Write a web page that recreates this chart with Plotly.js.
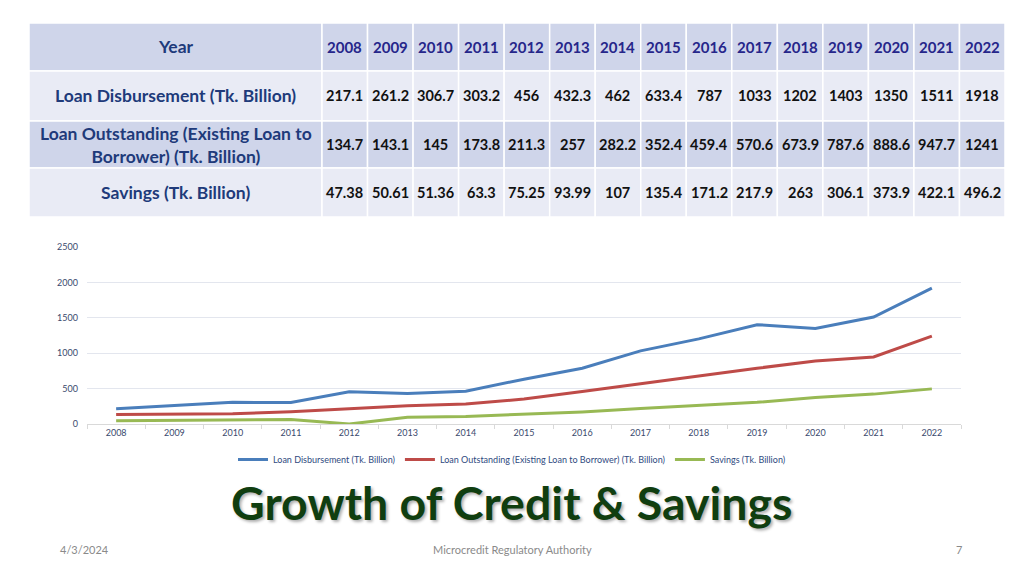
<!DOCTYPE html>
<html>
<head>
<meta charset="utf-8">
<script src="https://cdn.plot.ly/plotly-3.0.1.min.js"></script>
<style>html,body{margin:0;padding:0;background:#fff;}#chart{width:1024px;height:576px;}</style>
</head>
<body>
<div id="chart"></div>
<script>
const years = ["2008","2009","2010","2011","2012","2013","2014","2015","2016","2017","2018","2019","2020","2021","2022"];
const headerLabel = "Year";
const rowLabels = ["Loan Disbursement (Tk. Billion)", "Loan Outstanding (Existing Loan to<br>Borrower) (Tk. Billion)", "Savings (Tk. Billion)"];
const seriesNames = ["Loan Disbursement (Tk. Billion)", "Loan Outstanding (Existing Loan to Borrower) (Tk. Billion)", "Savings (Tk. Billion)"];
const disbursement = [217.1, 261.2, 306.7, 303.2, 456, 432.3, 462, 633.4, 787, 1033, 1202, 1403, 1350, 1511, 1918];
const outstanding = [134.7, 143.1, 145, 173.8, 211.3, 257, 282.2, 352.4, 459.4, 570.6, 673.9, 787.6, 888.6, 947.7, 1241];
const savings = ["47.38", "50.61", "51.36", "63.3", "75.25", "93.99", "107", "135.4", "171.2", "217.9", "263", "306.1", "373.9", "422.1", "496.2"];
// chart as drawn in the reference (2012 savings plotted at 0)
const savingsChart = [47.38, 50.61, 51.36, 63.3, 0, 93.99, 107, 135.4, 171.2, 217.9, 263, 306.1, 373.9, 422.1, 496.2];
const yTicks = [0, 500, 1000, 1500, 2000, 2500];

const W = 1024, H = 576;
const FONT = "Lato, 'Open Sans', sans-serif";
const light = "#e9ebf5", dark = "#cfd5ea";
const rowFills = [dark, light, dark, light];
const rowEdges = [23, 71, 121, 168, 217];
const colEdges = [29, 322];
for (let i = 1; i <= years.length; i++) colEdges.push(322 + i * (1005 - 322) / years.length);

const px = x => x / W, py = y => 1 - y / H;
const shapes = [];
const annotations = [];
const rowsText = [[headerLabel].concat(years)].concat(rowLabels.map((lab, r) =>
  [lab].concat(years.map((y, i) => r === 0 ? String(disbursement[i]) : r === 1 ? String(outstanding[i]) : savings[i]))));

for (let r = 0; r < rowsText.length; r++) {
  for (let c = 0; c < colEdges.length - 1; c++) {
    shapes.push({type: "rect", xref: "paper", yref: "paper",
      x0: px(colEdges[c]), x1: px(colEdges[c + 1]), y0: py(rowEdges[r + 1]), y1: py(rowEdges[r]),
      fillcolor: rowFills[r], line: {color: "#ffffff", width: 1.5}, layer: "below"});
    let color, size;
    if (c === 0) { color = "#203a7a"; size = 17.5; }
    else if (r === 0) { color = "#26268a"; size = 15; }
    else { color = "#111111"; size = 14.5; }
    annotations.push({text: "<b>" + rowsText[r][c] + "</b>", xref: "paper", yref: "paper",
      x: px((colEdges[c] + colEdges[c + 1]) / 2), y: py((rowEdges[r] + rowEdges[r + 1]) / 2),
      xanchor: "center", yanchor: "middle", showarrow: false, align: "center",
      font: {family: FONT, size: size, color: color}});
  }
}

const colors = ["#4a7ebb", "#be4b48", "#98b954"];
const seriesData = [disbursement, outstanding, savingsChart];
const lines = seriesData.map((d, i) => ({
  type: "scatter", mode: "lines", x: years, y: d, name: seriesNames[i],
  line: {color: colors[i], width: 3}
}));

annotations.push(
  {text: "<b>Growth of Credit &amp; Savings</b>", xref: "paper", yref: "paper", x: 0.5, y: py(502),
   xanchor: "center", yanchor: "middle", showarrow: false,
   font: {family: FONT, size: 46.5, color: "#103e10", shadow: "2px 2px 3px #b0b0b0"}},
  {text: "4/3/2024", xref: "paper", yref: "paper", x: px(58), y: py(549), xanchor: "left", yanchor: "middle",
   showarrow: false, font: {family: FONT, size: 11, color: "#8a8a8a"}},
  {text: "Microcredit Regulatory Authority", xref: "paper", yref: "paper", x: 0.5, y: py(549), xanchor: "center", yanchor: "middle",
   showarrow: false, font: {family: FONT, size: 11, color: "#8a8a8a"}},
  {text: "7", xref: "paper", yref: "paper", x: px(964), y: py(549), xanchor: "right", yanchor: "middle",
   showarrow: false, font: {family: FONT, size: 11, color: "#8a8a8a"}}
);

const layout = {
  width: W, height: H,
  margin: {l: 0, r: 0, t: 0, b: 0},
  paper_bgcolor: "#ffffff", plot_bgcolor: "rgba(0,0,0,0)",
  showlegend: true,
  legend: {orientation: "h", x: 0.5, xanchor: "center", y: py(445), yanchor: "top",
    font: {family: FONT, size: 9, color: "#2f4a80"}, itemwidth: 30, traceorder: "normal"},
  xaxis: {
    domain: [px(87), px(961)], type: "category", range: [-0.5, 14.5],
    showgrid: false, showline: true, linecolor: "#d9d9d9", linewidth: 1,
    ticks: "outside", tickson: "boundaries", ticklen: 4, tickcolor: "#d9d9d9",
    tickfont: {family: FONT, size: 9, color: "#3a4a6e"}, fixedrange: true
  },
  yaxis: {
    domain: [py(424), py(247)], range: [0, 2500], tickvals: yTicks,
    showgrid: true, gridcolor: "#e3e6ee", gridwidth: 1, zeroline: false, showline: false,
    ticks: "", tickfont: {family: FONT, size: 9, color: "#3a4a6e"},
    ticklabelstandoff: 8, fixedrange: true
  },
  shapes: shapes,
  annotations: annotations
};

Plotly.newPlot("chart", lines, layout, {displayModeBar: false, staticPlot: true});
</script>
</body>
</html>
